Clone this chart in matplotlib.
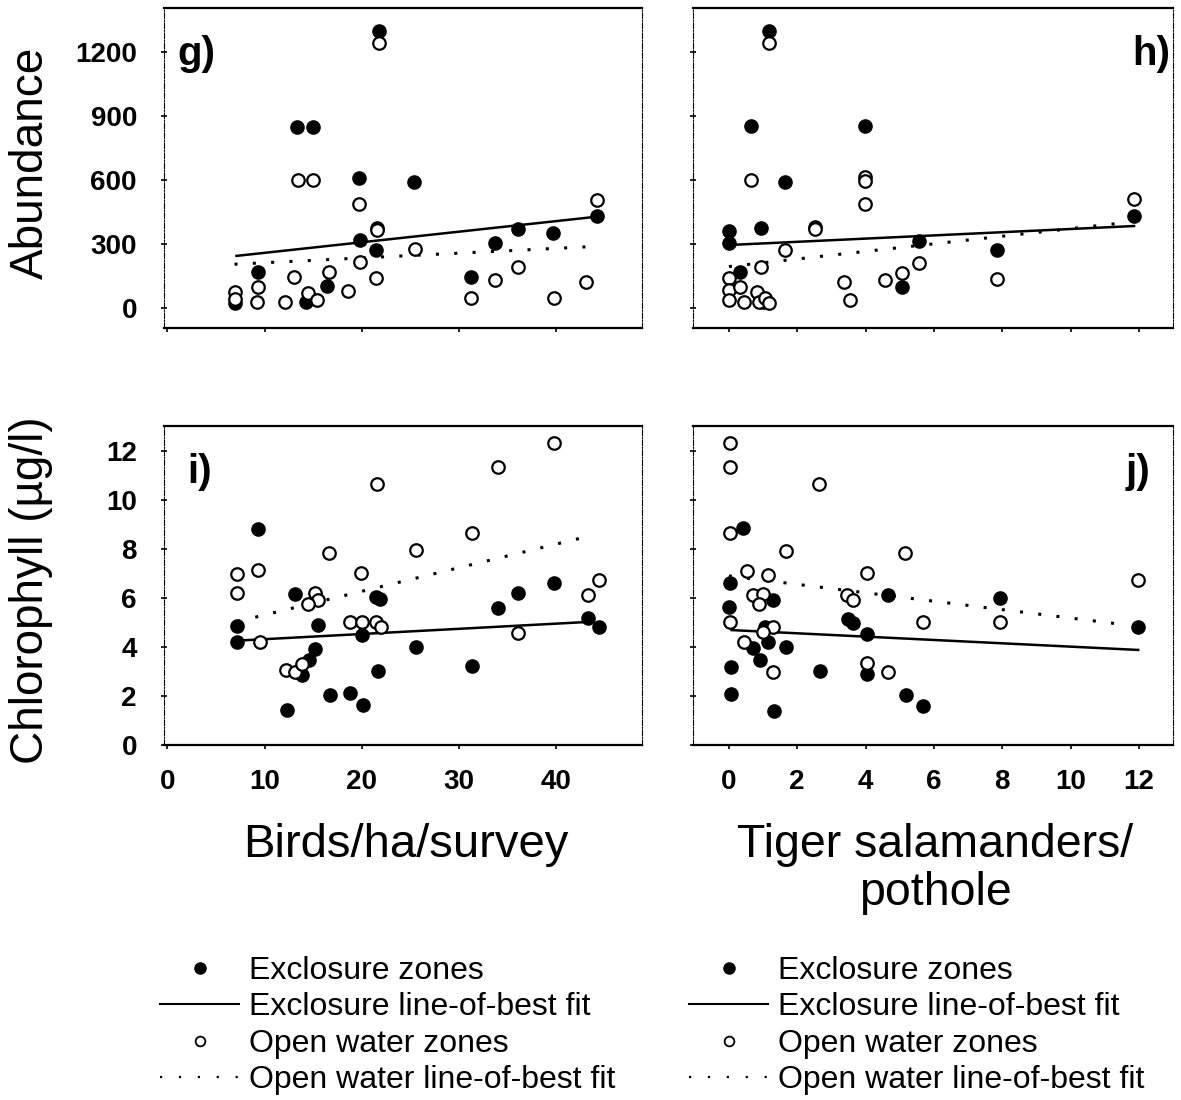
import matplotlib
matplotlib.use("Agg")
import matplotlib.pyplot as plt
from matplotlib.lines import Line2D

plt.rcParams['font.family'] = ['Liberation Sans', 'DejaVu Sans']

# ---- data ----
# g) abundance vs birds
g_excl_x = [21.8, 13.3, 15.0, 19.7, 25.4, 44.2, 36.1, 39.7, 19.8, 33.7, 21.4, 21.6, 9.35, 31.2, 16.4, 6.9, 14.3]
g_excl_y = [1296, 850, 850, 608, 592, 431, 369, 350, 319, 303, 272, 375, 170, 144, 103, 22, 30]
g_open_x = [21.8, 13.4, 15.0, 19.7, 44.2, 21.6, 25.5, 19.8, 36.0, 16.6, 13.0, 9.35, 21.4, 33.7,
            6.9, 18.6, 43.0, 9.2, 12.1, 14.5, 15.4, 31.2, 39.8, 6.9]
g_open_y = [1244, 600, 600, 488, 506, 366, 275, 217, 194, 170, 147, 100, 139, 131,
            77, 81, 123, 30, 30, 69, 37, 45, 45, 40]
g_fit_excl = ([7.1, 44.2], [244, 428])
g_fit_open = ([6.9, 43.4], [205, 287])

# h) abundance vs salamanders
h_excl_x = [1.17, 0.65, 3.97, 1.63, 0.0, 0.0, 0.95, 2.53, 5.57, 7.86, 11.86, 0.34, 5.07, 1.0]
h_excl_y = [1300, 853, 853, 592, 360, 303, 373, 381, 316, 272, 431, 170, 100, 30]
h_open_x = [1.17, 0.65, 3.97, 3.97, 3.97, 11.86, 2.53, 1.63, 0.95, 5.56, 4.58, 5.07, 7.86, 3.36,
            3.56, 0.0, 0.0, 0.0, 0.34, 0.44, 0.83, 0.88, 1.07, 1.17]
h_open_y = [1244, 600, 612, 595, 488, 509, 369, 272, 194, 213, 131, 162, 134, 123,
            37, 139, 84, 37, 100, 30, 77, 30, 45, 22]
h_fit_excl = ([0.0, 11.86], [295, 384])
h_fit_open = ([0.0, 11.6], [194, 400])

# i) chlorophyll vs birds
i_excl_x = [9.33, 39.8, 36.1, 13.1, 21.9, 21.4, 34.0, 43.2, 44.4, 7.2, 15.5, 7.2, 20.0, 25.6,
            15.2, 14.6, 13.8, 21.7, 31.3, 16.7, 18.8, 20.1, 12.3]
i_excl_y = [8.80, 6.60, 6.22, 6.16, 5.95, 6.05, 5.60, 5.17, 4.83, 4.86, 4.90, 4.22, 4.49, 4.01,
            3.90, 3.47, 2.86, 3.03, 3.22, 2.04, 2.11, 1.63, 1.43]
i_open_x = [39.8, 34.0, 21.6, 31.3, 16.6, 25.6, 9.33, 7.2, 19.9, 44.4, 7.2, 43.2, 15.2, 15.5,
            14.5, 18.8, 20.0, 21.5, 22.0, 36.1, 9.5, 12.2, 13.1, 13.8]
i_open_y = [12.34, 11.36, 10.64, 8.64, 7.85, 7.96, 7.14, 6.98, 7.03, 6.73, 6.19, 6.12, 6.19, 5.92,
            5.76, 5.03, 5.03, 5.03, 4.83, 4.58, 4.22, 3.06, 2.99, 3.31]
i_fit_excl = ([7.2, 43.6], [4.26, 5.03])
i_fit_open = ([7.2, 43.4], [5.04, 8.53])

# j) chlorophyll vs salamanders
j_excl_x = [0.42, 0.03, 0.0, 4.66, 7.93, 1.3, 11.98, 3.49, 3.64, 4.03, 1.05, 1.15, 1.67, 0.71,
            0.91, 0.05, 2.66, 4.03, 0.05, 5.18, 5.69, 1.32]
j_excl_y = [8.84, 6.60, 5.62, 6.12, 5.99, 5.92, 4.80, 5.13, 4.97, 4.53, 4.83, 4.22, 3.99, 3.95,
            3.47, 3.20, 3.03, 2.90, 2.08, 2.04, 1.59, 1.40]
j_open_x = [0.03, 0.03, 2.64, 0.03, 1.67, 5.15, 0.54, 1.15, 4.03, 11.98, 0.71, 1.0, 0.89, 3.46,
            3.64, 0.03, 1.28, 1.0, 5.67, 7.93, 0.44, 4.03, 4.66, 1.3]
j_open_y = [12.34, 11.33, 10.64, 8.64, 7.93, 7.82, 7.12, 6.94, 7.03, 6.73, 6.12, 6.16, 5.74, 6.12,
            5.92, 5.03, 4.80, 4.62, 5.03, 5.03, 4.22, 3.33, 2.99, 2.99]
j_fit_excl = ([0.08, 11.98], [4.69, 3.88])
j_fit_open = ([0.0, 11.64], [6.9, 4.9])

bird_ticks = [0, 10, 20, 30, 40]
sal_ticks = [0, 2, 4, 6, 8, 10, 12]
abund_ticks = [0, 300, 600, 900, 1200]
chl_ticks = [0, 2, 4, 6, 8, 10, 12]

legend_labels = ['Exclosure zones', 'Exclosure line-of-best fit',
                 'Open water zones', 'Open water line-of-best fit']

W, H = 1181, 1100
fig = plt.figure(figsize=(W / 100, H / 100), dpi=100)


def px_rect(x0, y0, x1, y1):
    return [x0 / W, 1 - y1 / H, (x1 - x0) / W, (y1 - y0) / H]


def panel(rect, ex, ey, ox, oy, fit_e, fit_o, xlim, ylim, xticks, yticks,
          letter, lx, ha, show_x, show_y):
    ax = fig.add_axes(rect)
    ax.plot(fit_e[0], fit_e[1], color='black', lw=1.8, zorder=2)
    ax.plot(fit_o[0], fit_o[1], color='black', lw=2.2, linestyle=(0, (1, 5)), zorder=2)
    ax.plot(ex, ey, 'o', color='black', markersize=9.5, zorder=3)
    ax.plot(ox, oy, 'o', mfc='white', mec='black', mew=1.6, markersize=9, zorder=4)
    ax.set_xlim(*xlim)
    ax.set_ylim(*ylim)
    ax.set_xticks(xticks)
    ax.set_yticks(yticks)
    if show_x:
        ax.set_xticklabels([str(t) for t in xticks], fontsize=20, fontweight='bold')
    else:
        ax.set_xticklabels([])
    if show_y:
        ax.set_yticklabels([str(t) for t in yticks], fontsize=20, fontweight='bold')
    else:
        ax.set_yticklabels([])
    ax.tick_params(axis='x', direction='out', length=3, width=1.2, pad=14)
    ax.tick_params(axis='y', direction='inout', length=5, width=1.2, pad=17)
    for s in ['top', 'bottom']:
        ax.spines[s].set_linewidth(1.6)
    for s in ['left', 'right']:
        ax.spines[s].set_linewidth(0.8)
        ax.spines[s].set_linestyle((0, (5, 1.5, 1, 1.5)))
    ax.text(lx, 0.822, letter, transform=ax.transAxes, ha=ha, va='baseline',
            fontsize=29, fontweight='bold')
    return ax


left_xlim = (-0.35, 48.8)
right_xlim = (-1.05, 13.0)
top_ylim = (-94, 1406)
bot_ylim = (0, 13.02)

panel(px_rect(164, 8, 642, 328), g_excl_x, g_excl_y, g_open_x, g_open_y, g_fit_excl, g_fit_open,
      left_xlim, top_ylim, bird_ticks, abund_ticks, 'g)', 0.027, 'left', False, True)
panel(px_rect(693, 8, 1173, 328), h_excl_x, h_excl_y, h_open_x, h_open_y, h_fit_excl, h_fit_open,
      right_xlim, top_ylim, sal_ticks, abund_ticks, 'h)', 0.994, 'right', False, False)
panel(px_rect(164, 426, 642, 745), i_excl_x, i_excl_y, i_open_x, i_open_y, i_fit_excl, i_fit_open,
      left_xlim, bot_ylim, bird_ticks, chl_ticks, 'i)', 0.048, 'left', True, True)
panel(px_rect(693, 426, 1173, 745), j_excl_x, j_excl_y, j_open_x, j_open_y, j_fit_excl, j_fit_open,
      right_xlim, bot_ylim, sal_ticks, chl_ticks, 'j)', 0.952, 'right', True, False)

# axis titles
fig.text(31 / W, 1 - 163 / H, 'Abundance', rotation=90, ha='center', va='center', fontsize=33)
fig.text(31 / W, 1 - 590 / H, 'Chlorophyll (µg/l)', rotation=90, ha='center', va='center', fontsize=33)
fig.text(406 / W, 1 - 857 / H, 'Birds/ha/survey', ha='center', va='baseline', fontsize=34)
fig.text(935 / W, 1 - 857 / H, 'Tiger salamanders/', ha='center', va='baseline', fontsize=33.5)
fig.text(935 / W, 1 - 905 / H, 'pothole', ha='center', va='baseline', fontsize=33.5)

# legends
handles = [
    Line2D([], [], marker='o', ls='none', color='black', markersize=8),
    Line2D([], [], color='black', lw=1.5),
    Line2D([], [], marker='o', ls='none', mfc='white', mec='black', mew=1.3, markersize=7),
    Line2D([], [], color='black', lw=1.6, linestyle=(0, (1, 7.5))),
]
for x0 in [160, 689]:
    fig.legend(handles, legend_labels, loc='upper left', bbox_to_anchor=(x0 / W, 1 - 956 / H),
               frameon=False, fontsize=23, handlelength=2.48, handletextpad=0.3,
               labelspacing=0.2, borderpad=0, borderaxespad=0)

fig.savefig('out.png', dpi=100)
